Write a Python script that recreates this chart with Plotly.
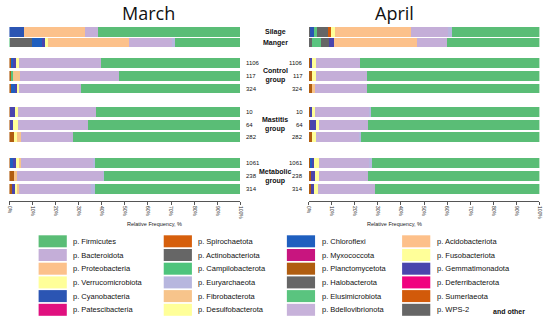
import plotly.graph_objects as go

W, H = 550, 321

# ---------------- data ----------------
ROWS = ["Silage", "Manger", "1106", "117", "324", "10", "64", "282", "1061", "238", "314"]
GROUPS = [("Control<br>group", "117"), ("Mastitis<br>group", "64"), ("Metabolic<br>group", "238")]
SAMPLE_ROWS = ["1106", "117", "324", "10", "64", "282", "1061", "238", "314"]

# stacking order, left -> right
STACK_ORDER = ["Halobacterota", "Planctomycetota", "Cyanobacteria", "Elusimicrobiota",
               "Actinobacteriota", "Chloroflexi", "Gemmatimonadota", "Sumerlaeota",
               "Desulfobacterota", "Verrucomicrobiota", "Fibrobacterota", "Proteobacteria",
               "Bacteroidota", "Euryarchaeota", "Firmicutes"]

#                      Silage Manger 1106  117   324   10    64    282   1061  238   314
MARCH = {
    "Halobacterota":     [0,    0,    0,    0,    0,    0,    0,    0,    0,    0,    0],
    "Planctomycetota":   [0,    0,    1.0,  1.0,  1.0,  0.4,  0.6,  2.0,  0.6,  2.0,  1.5],
    "Cyanobacteria":     [6.3,  0,    0,    0,    0,    0,    0,    0,    0,    0,    0],
    "Elusimicrobiota":   [0,    0.6,  0,    0.9,  0,    0,    0,    0,    0,    0,    0],
    "Actinobacteriota":  [0,    9.2,  0,    0,    0,    0,    0,    0,    0,    0,    0],
    "Chloroflexi":       [0,    4.3,  0.8,  0,    1.4,  0,    0,    0,    1.2,  0,    0],
    "Gemmatimonadota":   [0,    1.7,  1.2,  0,    1.2,  2.2,  1.2,  0,    1.2,  0,    1.0],
    "Sumerlaeota":       [0,    0,    0,    0,    0,    0,    0,    0,    0,    0,    0],
    "Desulfobacterota":  [0,    1.2,  0,    0,    0,    0,    0.7,  0,    0,    0,    0],
    "Verrucomicrobiota": [0,    0,    1.5,  0,    0.9,  1.4,  1.5,  1.4,  1.6,  0,    1.2],
    "Fibrobacterota":    [0,    0,    0,    2.7,  0,    0,    0,    1.8,  0.4,  1.3,  0.6],
    "Proteobacteria":    [26.4, 35.0, 0,    0,    0,    0,    0,    0,    0,    0,    0],
    "Bacteroidota":      [5.7,  18.6, 35.5, 43.2, 26.5, 33.6, 30.0, 22.7, 31.5, 37.5, 31.2],
    "Euryarchaeota":     [0,    1.4,  0,    0,    0,    0,    0,    0,    0.6,  0.5,  1.7],
    "Firmicutes":        [61.6, 28.0, 60.0, 52.2, 69.0, 62.4, 66.0, 72.1, 62.9, 58.7, 62.8],
}
APRIL = {
    "Halobacterota":     [0.5,  1.2,  0,    0,    0,    0,    0,    0,    0,    0,    0],
    "Planctomycetota":   [0,    0,    0.5,  1.5,  1.7,  0.3,  0.6,  1.7,  0.8,  0.9,  0.8],
    "Cyanobacteria":     [1.8,  0,    0,    0,    0,    0,    0,    0,    0,    0,    0],
    "Elusimicrobiota":   [1.0,  4.0,  0,    0,    0,    0,    0,    0,    0,    0,    0],
    "Actinobacteriota":  [5.0,  3.4,  0,    0,    0,    0,    0,    0,    0,    0,    0],
    "Chloroflexi":       [0,    0,    0,    0,    0,    0,    0,    0,    0.5,  0,    0],
    "Gemmatimonadota":   [0,    2.3,  1.2,  0,    0,    1.1,  2.5,  0,    0.9,  2.0,  1.6],
    "Sumerlaeota":       [1.1,  0,    0,    0,    0,    0,    0,    0,    0,    0,    0],
    "Desulfobacterota":  [1.7,  0,    0.6,  0.9,  0,    0.5,  0.3,  0.4,  1.0,  0.2,  0.5],
    "Verrucomicrobiota": [0,    0,    0.6,  0.7,  0,    0.7,  0.9,  1.0,  1.2,  1.2,  1.0],
    "Fibrobacterota":    [0,    0,    0,    0,    0.7,  0,    0,    0,    0,    0,    0],
    "Proteobacteria":    [33.2, 36.0, 0,    0,    0,    0,    0,    0,    0,    0,    0],
    "Bacteroidota":      [16.1, 12.9, 19.0, 22.2, 22.9, 23.4, 21.2, 18.9, 21.5, 21.4, 24.8],
    "Euryarchaeota":     [1.5,  0,    0,    0,    0,    0.7,  0,    0.5,  1.3,  0,    0],
    "Firmicutes":        [38.1, 40.2, 78.1, 74.7, 74.7, 73.3, 74.5, 77.5, 72.8, 74.3, 71.3],
}

LEGEND_COLUMNS = [
    ["Firmicutes", "Bacteroidota", "Proteobacteria", "Verrucomicrobiota", "Cyanobacteria", "Patescibacteria"],
    ["Spirochaetota", "Actinobacteriota", "Campilobacterota", "Euryarchaeota", "Fibrobacterota", "Desulfobacterota"],
    ["Chloroflexi", "Myxococcota", "Planctomycetota", "Halobacterota", "Elusimicrobiota", "Bdellovibrionota"],
    ["Acidobacteriota", "Fusobacteriota", "Gemmatimonadota", "Deferribacterota", "Sumerlaeota", "WPS-2"],
]
COLORS = {
    "Firmicutes": "#5abd76", "Bacteroidota": "#c4aed8", "Proteobacteria": "#fcc18b",
    "Verrucomicrobiota": "#ffff99", "Cyanobacteria": "#2b55b3", "Patescibacteria": "#e0107f",
    "Spirochaetota": "#d65f0c", "Actinobacteriota": "#666666", "Campilobacterota": "#4ec47c",
    "Euryarchaeota": "#b7b6de", "Fibrobacterota": "#f7c48b", "Desulfobacterota": "#ffff99",
    "Chloroflexi": "#1f5fbf", "Myxococcota": "#c8157f", "Planctomycetota": "#b05d10",
    "Halobacterota": "#666666", "Elusimicrobiota": "#5ac47f", "Bdellovibrionota": "#c7b2da",
    "Acidobacteriota": "#fdc08a", "Fusobacteriota": "#ffff99", "Gemmatimonadota": "#4a45ad",
    "Deferribacterota": "#f0027f", "Sumerlaeota": "#d25a0a", "WPS-2": "#666666",
}
TICKS = list(range(0, 101, 10))
TICK_TEXT = [f"{t}%" for t in TICKS]

# ---------------- layout helpers ----------------
ROW_POS = [0, 0.81, 2.38, 3.38, 4.35, 6.15, 7.15, 8.1, 10.08, 11.08, 12.08]
BAR_W = 0.76
pos = dict(zip(ROWS, ROW_POS))

def px(x):
    return x / W

def py(y):
    return 1 - y / H

fig = go.Figure()
for month, data, xa in [("March", MARCH, "x"), ("April", APRIL, "x2")]:
    for tax in STACK_ORDER:
        fig.add_trace(go.Bar(
            x=data[tax], y=ROW_POS, orientation="h", xaxis=xa, yaxis="y",
            width=BAR_W, marker=dict(color=COLORS[tax], line=dict(width=0)),
            showlegend=False, name=tax, hoverinfo="name+x"))

axis_common = dict(range=[0, 100], showline=True, linecolor="#555", linewidth=1,
                   ticks="outside", ticklen=3, tickcolor="#555", tickvals=TICKS,
                   ticktext=TICK_TEXT, tickangle=90, tickfont=dict(size=5, color="#222"),
                   showgrid=False, zeroline=False, anchor="y", fixedrange=True)

fig.update_layout(
    width=W, height=H, margin=dict(l=0, r=0, t=0, b=0),
    paper_bgcolor="white", plot_bgcolor="white", barmode="stack", bargap=0,
    font=dict(family="Liberation Sans, Arial, sans-serif", color="#111"),
    xaxis=dict(domain=[px(6.5), px(240)], **axis_common),
    xaxis2=dict(domain=[px(309), px(542.3)], **axis_common),
    yaxis=dict(range=[13, -0.923], domain=[py(201), py(20)], visible=False, fixedrange=True),
)

ann = []
# titles
ann.append(dict(text="March", x=px(118.5), y=py(13), xref="paper", yref="paper",
                showarrow=False, font=dict(family="Open Sans", size=18, color="#111")))
ann.append(dict(text="April", x=px(417.5), y=py(13), xref="paper", yref="paper",
                showarrow=False, font=dict(family="Open Sans", size=18, color="#111")))
# axis titles
for cx in (123, 425.5):
    ann.append(dict(text="Relative Frequency, %", x=px(cx), y=py(224), xref="paper", yref="paper",
                    showarrow=False, font=dict(size=5.5, color="#222")))
# silage / manger
for name in ["Silage", "Manger"]:
    ann.append(dict(text=f"<b>{name}</b>", x=px(275), y=pos[name], xref="paper", yref="y",
                    showarrow=False, font=dict(size=7, color="#111")))
# group labels
for label, mid in GROUPS:
    ann.append(dict(text=f"<b>{label}</b>", x=px(275), y=pos[mid], xref="paper", yref="y",
                    showarrow=False, font=dict(size=7, color="#111")))
# sample numbers
for s in SAMPLE_ROWS:
    ann.append(dict(text=s, x=px(243.5), y=pos[s], xref="paper", yref="y", xanchor="left",
                    showarrow=False, font=dict(size=6, color="#111")))
    ann.append(dict(text=s, x=px(305.5), y=pos[s], xref="paper", yref="y", xanchor="right",
                    showarrow=False, font=dict(size=6, color="#111")))

# legend
shapes = []
COL_SWATCH_X = [36, 162.5, 287, 403.5]
ROW0, ROW_STEP = 241.3, 13.7
for ci, col in enumerate(LEGEND_COLUMNS):
    x0 = COL_SWATCH_X[ci]
    for ri, tax in enumerate(col):
        yc = ROW0 + ri * ROW_STEP
        shapes.append(dict(type="rect", xref="paper", yref="paper",
                           x0=px(x0), x1=px(x0 + 28.5), y0=py(yc + 6), y1=py(yc - 6),
                           fillcolor=COLORS[tax], line=dict(width=0)))
        ann.append(dict(text=f"p. {tax}", x=px(x0 + 33), y=py(yc), xref="paper", yref="paper",
                        xanchor="left", showarrow=False, font=dict(size=7.5, color="#111")))
ann.append(dict(text="<b>and other</b>", x=px(530), y=py(311), xref="paper", yref="paper",
                showarrow=False, font=dict(size=7, color="#111")))

for a in ann:
    a["yanchor"] = "middle"

fig.update_layout(annotations=ann, shapes=shapes)
fig.write_html("out.html", config={"displayModeBar": False},
               post_script="document.body.style.margin='0';document.body.style.padding='0';")
